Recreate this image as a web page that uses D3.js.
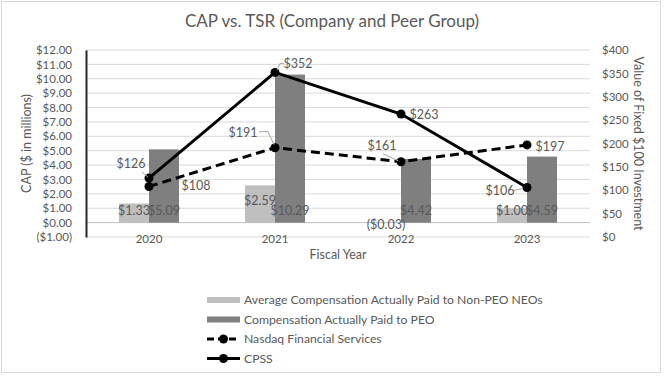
<!DOCTYPE html>
<html>
<head>
<meta charset="utf-8">
<script src="https://cdn.jsdelivr.net/npm/d3@7"></script>
<style>
  body { margin: 0; background: #fff; }
  text { font-family: Lato, "Open Sans", sans-serif; fill: #595959; }
</style>
</head>
<body>
<div id="chart"></div>
<script>
const years = ['2020', '2021', '2022', '2023'];
const nonPeoCap = [1.33, 2.59, -0.03, 1.00];
const peoCap = [5.09, 10.29, 4.42, 4.59];
const nasdaqTsr = [108, 191, 161, 197];
const cpssTsr = [126, 352, 263, 106];
const leftTicks = d3.range(-1, 13, 1);
const rightTicks = d3.range(0, 401, 50);

document.addEventListener('DOMContentLoaded', function() {
    const width = 664;
    const height = 376;
    const plot = { left: 86, right: 590, top: 50, bottom: 237 };

    const svg = d3.select('#chart')
        .append('svg')
        .attr('width', width)
        .attr('height', height);

    // chart border
    svg.append('rect')
        .attr('x', 1.5).attr('y', 1.5)
        .attr('width', width - 5).attr('height', height - 5)
        .attr('fill', '#fff')
        .attr('stroke', '#d9d9d9');

    const x = d3.scaleBand()
        .domain(years)
        .range([plot.left, plot.right]);

    const xBar = d3.scaleBand()
        .domain(['nonPeo', 'peo'])
        .range([0, 60]);

    const yL = d3.scaleLinear().domain([-1, 12]).range([plot.bottom, plot.top]);
    const yR = d3.scaleLinear().domain([0, 400]).range([plot.bottom, plot.top]);

    const fmtMoney = v => v < 0 ? `($${Math.abs(v).toFixed(2)})` : `$${v.toFixed(2)}`;

    // gridlines
    svg.append('g')
        .selectAll('line')
        .data(leftTicks)
        .enter().append('line')
        .attr('x1', plot.left).attr('x2', plot.right)
        .attr('y1', d => yL(d)).attr('y2', d => yL(d))
        .attr('stroke', d => d === 0 ? '#bfbfbf' : '#d9d9d9')
        .attr('stroke-width', 1);

    // left axis
    const leftAxis = svg.append('g')
        .attr('transform', `translate(${plot.left},0)`)
        .call(d3.axisLeft(yL).tickValues(leftTicks).tickFormat(fmtMoney).tickSize(0).tickPadding(14));
    leftAxis.select('.domain').attr('stroke', '#262626').attr('stroke-width', 2);
    leftAxis.selectAll('text').attr('font-size', 11.5).attr('fill', '#595959')
        .style('font-family', 'Lato, sans-serif');

    // right axis
    const rightAxis = svg.append('g')
        .attr('transform', `translate(${plot.right},0)`)
        .call(d3.axisRight(yR).tickValues(rightTicks).tickFormat(d => `$${d}`).tickSize(0).tickPadding(12));
    rightAxis.select('.domain').remove();
    rightAxis.selectAll('text').attr('font-size', 11.5).attr('fill', '#595959')
        .style('font-family', 'Lato, sans-serif');

    // category labels
    svg.append('g')
        .selectAll('text')
        .data(years)
        .enter().append('text')
        .attr('x', d => x(d) + x.bandwidth() / 2)
        .attr('y', plot.bottom + 6)
        .attr('text-anchor', 'middle')
        .attr('font-size', 11.5)
        .text(d => d);

    // bars
    const barData = [];
    years.forEach((yr, i) => {
        barData.push({ year: yr, key: 'nonPeo', value: nonPeoCap[i], color: '#bfbfbf' });
        barData.push({ year: yr, key: 'peo', value: peoCap[i], color: '#7f7f7f' });
    });
    const barX = d => x(d.year) + x.bandwidth() / 2 - 30 + xBar(d.key);

    svg.append('g')
        .selectAll('rect')
        .data(barData)
        .enter().append('rect')
        .attr('x', barX)
        .attr('width', xBar.bandwidth())
        .attr('y', d => yL(Math.max(0, d.value)))
        .attr('height', d => Math.abs(yL(d.value) - yL(0)))
        .attr('fill', d => d.color);

    // bar labels (inside base)
    const barLabelNudge = { '2021nonPeo': -10 };
    svg.append('g')
        .selectAll('text')
        .data(barData)
        .enter().append('text')
        .attr('x', d => barX(d) + xBar.bandwidth() / 2)
        .attr('y', d => d.value < 0 ? yL(0) + 2 : yL(0) - 12 + (barLabelNudge[d.year + d.key] || 0))
        .attr('dy', '0.35em')
        .attr('text-anchor', 'middle')
        .attr('font-size', 12.5)
        .attr('fill', '#4d4d4d')
        .text(d => fmtMoney(d.value));

    // lines
    const cx = d => x(d.year) + x.bandwidth() / 2;
    const series = [
        { name: 'Nasdaq Financial Services', values: nasdaqTsr, dash: '9,5' },
        { name: 'CPSS', values: cpssTsr, dash: null }
    ];

    series.forEach(s => {
        const pts = years.map((yr, i) => ({ year: yr, value: s.values[i] }));
        const line = d3.line().x(cx).y(d => yR(d.value));
        svg.append('path')
            .datum(pts)
            .attr('fill', 'none')
            .attr('stroke', '#000')
            .attr('stroke-width', 3)
            .attr('stroke-dasharray', s.dash)
            .attr('d', line);
        svg.append('g')
            .selectAll('circle')
            .data(pts)
            .enter().append('circle')
            .attr('cx', cx)
            .attr('cy', d => yR(d.value))
            .attr('r', 4.5)
            .attr('fill', '#000');
        s.pts = pts;
    });

    // line data labels: offsets from the point, optional leader
    const labelLayout = {
        'CPSS': [
            { dx: -18, dy: -14, lead: [[-7, -6], [-1, -1]] },
            { dx: 23, dy: -9, lead: [[2, -2], [5, -9], [9, -9]] },
            { dx: 23, dy: 1 },
            { dx: -27, dy: 3, lead: [[-14, 3], [-4, 1]] }
        ],
        'Nasdaq Financial Services': [
            { dx: 47, dy: -1 },
            { dx: -32, dy: -15, lead: [[-16, -16], [-7, -16], [-1, -3]] },
            { dx: -19, dy: -16, lead: [[-18, -8], [-3, -1]] },
            { dx: 23, dy: 2 }
        ]
    };

    series.forEach(s => {
        const g = svg.append('g');
        s.pts.forEach((p, i) => {
            const L = labelLayout[s.name][i];
            const px = cx(p), py = yR(p.value);
            if (L.lead) {
                g.append('path')
                    .attr('d', d3.line()(L.lead.map(q => [px + q[0], py + q[1]])))
                    .attr('fill', 'none')
                    .attr('stroke', '#a6a6a6')
                    .attr('stroke-width', 1);
            }
            g.append('text')
                .attr('x', px + L.dx)
                .attr('y', py + L.dy)
                .attr('dy', '0.35em')
                .attr('text-anchor', 'middle')
                .attr('font-size', 12.5)
                .text(`$${p.value}`);
        });
    });

    // titles
    svg.append('text')
        .attr('x', 332).attr('y', 21)
        .attr('dy', '0.35em')
        .attr('text-anchor', 'middle')
        .attr('font-size', 17)
        .text('CAP vs. TSR (Company and Peer Group)');

    svg.append('text')
        .attr('transform', `translate(27,${(plot.top + plot.bottom) / 2}) rotate(-90)`)
        .attr('dy', '0.35em')
        .attr('text-anchor', 'middle')
        .attr('font-size', 12.5)
        .text('CAP ($ in millions)');

    svg.append('text')
        .attr('transform', `translate(638,${(plot.top + plot.bottom) / 2}) rotate(90)`)
        .attr('dy', '0.35em')
        .attr('text-anchor', 'middle')
        .attr('font-size', 12.5)
        .text('Value of Fixed $100 Investment');

    svg.append('text')
        .attr('x', (plot.left + plot.right) / 2).attr('y', 255)
        .attr('dy', '0.35em')
        .attr('text-anchor', 'middle')
        .attr('font-size', 12.5)
        .text('Fiscal Year');

    // legend
    const legendItems = [
        { name: 'Average Compensation Actually Paid to Non-PEO NEOs', type: 'bar', color: '#bfbfbf' },
        { name: 'Compensation Actually Paid to PEO', type: 'bar', color: '#7f7f7f' },
        { name: 'Nasdaq Financial Services', type: 'line', dash: '9,5' },
        { name: 'CPSS', type: 'line', dash: null }
    ];
    const legend = svg.append('g').attr('transform', 'translate(207,300)');
    legendItems.forEach((item, i) => {
        const row = legend.append('g').attr('transform', `translate(0,${i * 19.5})`);
        if (item.type === 'bar') {
            row.append('rect')
                .attr('x', 0).attr('y', -3)
                .attr('width', 33).attr('height', 6)
                .attr('fill', item.color);
        } else {
            row.append('line')
                .attr('x1', 0).attr('x2', 33)
                .attr('stroke', '#000')
                .attr('stroke-width', 3)
                .attr('stroke-dasharray', item.dash ? '7,4' : null);
            row.append('circle')
                .attr('cx', 16.5).attr('r', 4.5)
                .attr('fill', '#000');
        }
        row.append('text')
            .attr('x', 37)
            .attr('dy', '0.35em')
            .attr('font-size', 12.2)
            .text(item.name);
    });
});
</script>
</body>
</html>
